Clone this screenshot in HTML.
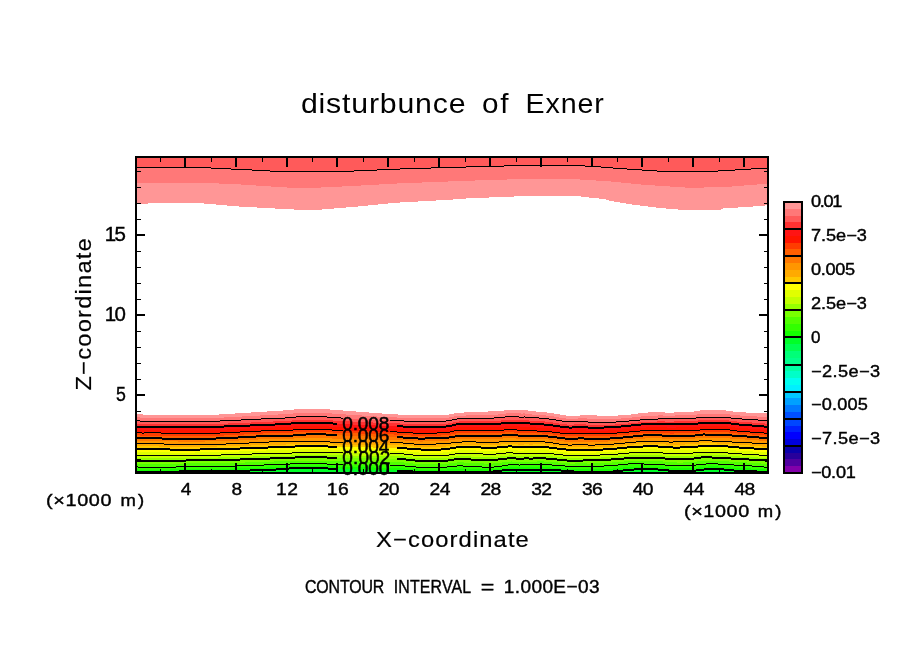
<!DOCTYPE html>
<html><head><meta charset="utf-8"><title>disturbunce of Exner</title>
<style>
html,body{margin:0;padding:0;background:#fff;}
body{width:904px;height:654px;position:relative;overflow:hidden;font-family:"Liberation Sans",sans-serif;}
svg text{font-family:"Liberation Sans",sans-serif;fill:#000;stroke:#000;stroke-width:0.4px;}
svg text.tt{stroke:none;}
svg text.ax{stroke-width:0.2px;}
svg text.cl{stroke:#000;stroke-width:0.5px;}
</style></head><body>
<svg width="904" height="654" viewBox="0 0 904 654" shape-rendering="crispEdges" style="position:absolute;left:0;top:0">
<rect width="904" height="654" fill="#fff"/>
<path d="M137,158h74v9h-74zM211,158h20v10h-20zM231,158h21v11h-21zM252,158h18v12h-18zM270,158h84v13h-84zM354,158h23v12h-23zM377,158h23v11h-23zM400,158h31v10h-31zM431,158h35v9h-35zM466,158h38v8h-38zM504,158h81v7h-81zM585,158h16v8h-16zM601,158h12v9h-12zM613,158h14v10h-14zM627,158h15v11h-15zM642,158h15v12h-15zM657,158h61v13h-61zM718,158h17v12h-17zM735,158h16v11h-16zM751,158h16v10h-16z" fill="#ff5a5a"/>
<path d="M137,167h74v16h-74zM211,168h8v15h-8zM219,168h12v16h-12zM231,169h10v15h-10zM241,169h11v16h-11zM252,170h4v15h-4zM256,170h14v16h-14zM270,171h1v15h-1zM271,171h16v16h-16zM287,171h34v17h-34zM321,171h21v16h-21zM342,171h12v15h-12zM354,170h7v16h-7zM361,170h16v15h-16zM377,169h2v16h-2zM379,169h18v15h-18zM397,169h3v14h-3zM400,168h22v15h-22zM422,168h9v14h-9zM431,167h17v15h-17zM448,167h18v14h-18zM466,166h9v15h-9zM475,166h29v14h-29zM504,165h3v15h-3zM507,165h73v14h-73zM580,165h5v15h-5zM585,166h11v14h-11zM596,166h5v15h-5zM601,167h10v14h-10zM611,167h2v15h-2zM613,168h8v14h-8zM621,168h6v15h-6zM627,169h4v14h-4zM631,169h10v15h-10zM641,169h1v16h-1zM642,170h13v15h-13zM655,170h2v16h-2zM657,171h13v15h-13zM670,171h15v16h-15zM685,171h19v17h-19zM704,171h14v16h-14zM718,170h14v17h-14zM732,170h3v16h-3zM735,169h9v17h-9zM744,169h7v16h-7zM751,168h6v17h-6zM757,168h10v16h-10z" fill="#ff7878"/>
<path d="M137,183h11v21h-11zM148,183h56v20h-56zM204,183h12v21h-12zM216,183h3v22h-3zM219,184h8v21h-8zM227,184h12v22h-12zM239,184h2v23h-2zM241,185h15v22h-15zM256,186h1v21h-1zM257,186h14v22h-14zM271,187h4v21h-4zM275,187h12v22h-12zM287,188h7v21h-7zM294,188h27v22h-27zM321,187h1v23h-1zM322,187h12v22h-12zM334,187h8v21h-8zM342,186h4v22h-4zM346,186h12v21h-12zM358,186h3v20h-3zM361,185h7v21h-7zM368,185h10v20h-10zM378,185h1v19h-1zM379,184h9v20h-9zM388,184h9v19h-9zM397,183h3v20h-3zM400,183h18v19h-18zM418,183h4v18h-4zM422,182h14v19h-14zM436,182h12v18h-12zM448,181h5v19h-5zM453,181h13v18h-13zM466,181h9v17h-9zM475,180h14v18h-14zM489,180h18v17h-18zM507,179h7v18h-7zM514,179h66v17h-66zM580,180h1v16h-1zM581,180h8v17h-8zM589,180h7v18h-7zM596,181h3v17h-3zM599,181h7v18h-7zM606,181h3v19h-3zM609,181h2v20h-2zM611,182h3v19h-3zM614,182h6v20h-6zM620,182h1v21h-1zM621,183h5v20h-5zM626,183h5v21h-5zM631,184h1v20h-1zM632,184h8v21h-8zM640,184h1v22h-1zM641,185h7v21h-7zM648,185h7v22h-7zM655,186h1v21h-1zM656,186h10v22h-10zM666,186h4v23h-4zM670,187h8v22h-8zM678,187h7v23h-7zM685,188h19v22h-19zM704,187h17v23h-17zM721,187h2v22h-2zM723,187h9v21h-9zM732,186h6v22h-6zM738,186h6v21h-6zM744,185h9v22h-9zM753,185h4v21h-4zM757,184h8v22h-8zM765,184h2v21h-2z" fill="#ff9696"/>
<path d="M137,167h74v1h-74zM211,168h20v1h-20zM231,169h21v1h-21zM252,170h18v1h-18zM270,171h84v1h-84zM354,170h23v1h-23zM377,169h23v1h-23zM400,168h31v1h-31zM431,167h35v1h-35zM466,166h38v1h-38zM504,165h81v1h-81zM585,166h16v1h-16zM601,167h12v1h-12zM613,168h14v1h-14zM627,169h15v1h-15zM642,170h15v1h-15zM657,171h61v1h-61zM718,170h17v1h-17zM735,169h16v1h-16zM751,168h16v1h-16z" fill="#000"/>
<path d="M137,414h3v3h-3zM140,414h3v4h-3zM143,415h76v3h-76zM219,414h5v4h-5zM224,414h11v3h-11zM235,413h7v4h-7zM242,413h9v3h-9zM251,412h9v4h-9zM260,412h7v3h-7zM267,411h11v4h-11zM278,411h5v3h-5zM283,410h10v4h-10zM293,410h1v3h-1zM294,409h36v4h-36zM330,410h2v3h-2zM332,410h11v4h-11zM343,411h3v3h-3zM346,411h10v4h-10zM356,412h6v3h-6zM362,412h7v4h-7zM369,413h8v3h-8zM377,413h5v4h-5zM382,414h15v3h-15zM397,414h1v4h-1zM398,415h51v3h-51zM449,414h5v3h-5zM454,413h10v3h-10zM464,412h2v4h-2zM466,412h22v3h-22zM488,411h10v4h-10zM498,411h6v3h-6zM504,410h2v4h-2zM506,410h15v3h-15zM521,410h2v4h-2zM523,410h2v3h-2zM525,410h3v4h-3zM528,411h4v3h-4zM532,411h4v4h-4zM536,412h10v3h-10zM546,412h1v4h-1zM547,413h7v3h-7zM554,414h5v3h-5zM559,414h1v4h-1zM560,415h6v3h-6zM566,416h12v3h-12zM578,416h2v2h-2zM580,415h7v3h-7zM587,415h10v4h-10zM597,416h21v3h-21zM618,415h3v4h-3zM621,415h10v3h-10zM631,414h1v4h-1zM632,414h6v3h-6zM638,413h3v4h-3zM641,413h7v3h-7zM648,412h10v4h-10zM658,412h5v3h-5zM663,412h2v4h-2zM665,413h9v3h-9zM674,412h1v4h-1zM675,412h19v3h-19zM694,411h3v4h-3zM697,411h3v3h-3zM700,410h26v4h-26zM726,411h4v3h-4zM730,411h3v4h-3zM733,412h7v3h-7zM740,412h6v4h-6zM746,413h11v3h-11zM757,413h10v4h-10z" fill="#ff9696"/>
<path d="M137,417h3v4h-3zM140,418h21v3h-21zM161,418h19v4h-19zM180,418h44v3h-44zM224,417h7v4h-7zM231,417h11v3h-11zM242,416h9v4h-9zM251,416h9v3h-9zM260,415h12v4h-12zM272,415h6v3h-6zM278,414h14v4h-14zM292,414h1v3h-1zM293,413h39v4h-39zM332,414h1v3h-1zM333,414h13v4h-13zM346,415h5v3h-5zM351,415h11v4h-11zM362,416h9v3h-9zM371,416h6v4h-6zM377,417h18v3h-18zM395,417h2v4h-2zM397,418h52v3h-52zM449,417h5v3h-5zM454,416h12v3h-12zM466,415h2v4h-2zM468,415h30v3h-30zM498,414h3v4h-3zM501,414h5v3h-5zM506,413h3v4h-3zM509,413h3v3h-3zM512,413h9v4h-9zM521,414h2v3h-2zM523,413h2v4h-2zM525,414h4v3h-4zM529,414h3v4h-3zM532,415h13v3h-13zM545,415h1v4h-1zM546,416h7v3h-7zM553,416h1v4h-1zM554,417h5v3h-5zM559,418h7v3h-7zM566,419h10v3h-10zM576,419h2v2h-2zM578,418h6v3h-6zM584,418h3v4h-3zM587,419h34v3h-34zM621,418h2v4h-2zM623,418h9v3h-9zM632,417h3v4h-3zM635,417h6v3h-6zM641,416h13v4h-13zM654,416h4v3h-4zM658,415h5v4h-5zM663,416h12v3h-12zM675,415h2v4h-2zM677,415h20v3h-20zM697,414h2v4h-2zM699,414h28v3h-28zM727,414h3v4h-3zM730,415h5v3h-5zM735,415h5v4h-5zM740,416h11v3h-11zM751,416h6v4h-6zM757,417h10v3h-10z" fill="#ff7878"/>
<path d="M137,421h24v3h-24zM161,422h19v2h-19zM180,421h48v3h-48zM228,421h3v2h-3zM231,420h20v3h-20zM251,419h21v3h-21zM272,418h1v4h-1zM273,418h19v3h-19zM292,417h41v3h-41zM333,418h18v3h-18zM351,419h1v2h-1zM352,419h19v3h-19zM371,420h2v2h-2zM373,420h22v3h-22zM395,421h5v2h-5zM400,421h48v3h-48zM448,421h1v2h-1zM449,420h4v3h-4zM453,420h1v2h-1zM454,419h5v3h-5zM459,419h9v2h-9zM468,418h33v3h-33zM501,417h8v3h-8zM509,416h3v4h-3zM512,417h17v3h-17zM529,418h16v3h-16zM545,419h8v3h-8zM553,420h6v3h-6zM559,421h7v3h-7zM566,422h1v2h-1zM567,422h7v3h-7zM574,422h2v2h-2zM576,421h8v3h-8zM584,422h2v2h-2zM586,422h29v3h-29zM615,422h8v2h-8zM623,421h5v3h-5zM628,421h7v2h-7zM635,420h3v3h-3zM638,420h16v2h-16zM654,419h3v3h-3zM657,419h8v2h-8zM665,419h9v3h-9zM674,419h3v2h-3zM677,418h21v3h-21zM698,418h1v2h-1zM699,417h28v3h-28zM727,418h2v2h-2zM729,418h6v3h-6zM735,419h2v2h-2zM737,419h14v3h-14zM751,420h1v2h-1zM752,420h13v3h-13zM765,420h2v4h-2z" fill="#ff5a5a"/>
<path d="M137,424h87v3h-87zM224,424h4v2h-4zM228,423h22v3h-22zM250,423h1v2h-1zM251,422h22v3h-22zM273,421h2v4h-2zM275,421h16v3h-16zM291,421h1v2h-1zM292,420h41v3h-41zM333,421h19v3h-19zM352,422h1v2h-1zM353,422h20v3h-20zM373,423h3v2h-3zM376,423h24v3h-24zM400,424h3v2h-3zM403,424h43v3h-43zM446,424h2v2h-2zM448,423h4v3h-4zM452,423h1v2h-1zM453,422h3v3h-3zM456,422h3v2h-3zM459,421h42v3h-42zM501,420h28v3h-28zM529,421h1v2h-1zM530,421h14v3h-14zM544,421h1v4h-1zM545,422h8v3h-8zM553,423h6v3h-6zM559,424h1v2h-1zM560,424h7v3h-7zM567,425h2v2h-2zM569,425h3v3h-3zM572,425h2v2h-2zM574,424h12v3h-12zM586,425h2v2h-2zM588,425h16v3h-16zM604,425h11v2h-11zM615,424h6v3h-6zM621,424h7v2h-7zM628,423h3v3h-3zM631,423h7v2h-7zM638,422h3v3h-3zM641,422h16v2h-16zM657,421h8v3h-8zM665,422h9v2h-9zM674,421h24v3h-24zM698,420h31v3h-31zM729,421h2v2h-2zM731,421h6v3h-6zM737,422h2v2h-2zM739,422h13v3h-13zM752,423h12v3h-12zM764,423h1v4h-1zM765,424h2v3h-2z" fill="#ff3232"/>
<path d="M137,427h87v3h-87zM224,426h3v4h-3zM227,426h23v3h-23zM250,425h25v3h-25zM275,424h16v3h-16zM291,423h3v4h-3zM294,423h35v3h-35zM329,423h4v4h-4zM333,424h15v3h-15zM348,424h5v4h-5zM353,425h22v3h-22zM375,425h1v4h-1zM376,426h27v3h-27zM403,427h1v2h-1zM404,427h42v3h-42zM446,426h1v4h-1zM447,426h5v3h-5zM452,425h4v3h-4zM456,424h1v4h-1zM457,424h44v3h-44zM501,423h4v4h-4zM505,423h15v3h-15zM520,423h10v4h-10zM530,424h6v3h-6zM536,424h8v4h-8zM544,425h7v3h-7zM551,425h2v4h-2zM553,426h5v3h-5zM558,426h2v4h-2zM560,427h7v3h-7zM567,427h2v4h-2zM569,428h3v3h-3zM572,427h3v4h-3zM575,427h11v3h-11zM586,427h2v4h-2zM588,428h16v3h-16zM604,427h4v4h-4zM608,427h13v3h-13zM621,426h1v4h-1zM622,426h9v3h-9zM631,425h2v4h-2zM633,425h8v3h-8zM641,424h5v4h-5zM646,424h21v3h-21zM667,424h9v4h-9zM676,424h22v3h-22zM698,423h2v4h-2zM700,423h28v3h-28zM728,423h3v4h-3zM731,424h4v3h-4zM735,424h4v4h-4zM739,425h9v3h-9zM748,425h4v4h-4zM752,426h8v3h-8zM760,426h4v4h-4zM764,427h3v3h-3z" fill="#ff1414"/>
<path d="M137,430h90v3h-90zM227,429h2v4h-2zM229,429h21v3h-21zM250,428h24v3h-24zM274,428h1v2h-1zM275,427h19v3h-19zM294,426h3v4h-3zM297,426h29v3h-29zM326,426h3v4h-3zM329,427h11v3h-11zM340,427h8v4h-8zM348,428h26v3h-26zM374,428h1v4h-1zM375,429h29v3h-29zM404,430h43v3h-43zM447,429h5v3h-5zM452,428h5v3h-5zM457,427h9v3h-9zM466,427h20v4h-20zM486,427h19v3h-19zM505,426h15v4h-15zM520,427h8v3h-8zM528,427h8v4h-8zM536,428h11v3h-11zM547,428h4v4h-4zM551,429h5v3h-5zM556,429h2v4h-2zM558,430h7v3h-7zM565,430h2v4h-2zM567,431h8v3h-8zM575,430h2v4h-2zM577,430h8v3h-8zM585,430h1v4h-1zM586,431h22v3h-22zM608,430h3v4h-3zM611,430h11v3h-11zM622,429h2v4h-2zM624,429h9v3h-9zM633,428h2v4h-2zM635,428h11v3h-11zM646,427h8v4h-8zM654,427h12v3h-12zM666,427h1v4h-1zM667,428h9v3h-9zM676,427h20v4h-20zM696,427h4v3h-4zM700,426h28v4h-28zM728,427h5v3h-5zM733,427h2v4h-2zM735,428h9v3h-9zM744,428h4v4h-4zM748,429h9v3h-9zM757,429h3v4h-3zM760,430h7v3h-7z" fill="#ff1400"/>
<path d="M137,433h3v2h-3zM140,433h84v3h-84zM224,433h5v2h-5zM229,432h15v3h-15zM244,432h6v2h-6zM250,431h13v3h-13zM263,431h11v2h-11zM274,430h20v3h-20zM294,430h3v2h-3zM297,429h29v3h-29zM326,430h7v2h-7zM333,430h7v3h-7zM340,431h19v2h-19zM359,431h15v3h-15zM374,432h20v2h-20zM394,432h10v3h-10zM404,433h7v2h-7zM411,433h30v3h-30zM441,433h6v2h-6zM447,432h4v3h-4zM451,432h1v2h-1zM452,431h4v3h-4zM456,431h1v2h-1zM457,430h9v3h-9zM466,431h20v2h-20zM486,430h19v3h-19zM505,430h9v2h-9zM514,430h14v3h-14zM528,431h14v2h-14zM542,431h5v3h-5zM547,432h6v2h-6zM553,432h3v3h-3zM556,433h4v2h-4zM560,433h5v3h-5zM565,434h12v2h-12zM577,433h8v3h-8zM585,434h26v2h-26zM611,433h6v3h-6zM617,433h7v2h-7zM624,432h5v3h-5zM629,432h6v2h-6zM635,431h4v3h-4zM639,431h15v2h-15zM654,430h12v3h-12zM666,431h4v2h-4zM670,431h4v3h-4zM674,431h22v2h-22zM696,430h3v3h-3zM699,430h30v2h-30zM729,430h4v3h-4zM733,431h5v2h-5zM738,431h6v3h-6zM744,432h8v2h-8zM752,432h5v3h-5zM757,433h8v2h-8zM765,433h2v3h-2z" fill="#ff3c00"/>
<path d="M137,435h3v3h-3zM140,436h22v2h-22zM162,436h54v3h-54zM216,436h8v2h-8zM224,435h14v3h-14zM238,435h6v2h-6zM244,434h12v3h-12zM256,434h7v2h-7zM263,433h30v3h-30zM293,433h1v2h-1zM294,432h12v3h-12zM306,432h20v2h-20zM326,432h7v3h-7zM333,433h12v2h-12zM345,433h14v3h-14zM359,434h14v2h-14zM373,434h21v3h-21zM394,435h9v2h-9zM403,435h8v3h-8zM411,436h7v2h-7zM418,436h7v3h-7zM425,436h16v2h-16zM441,435h8v3h-8zM449,435h2v2h-2zM451,434h4v3h-4zM455,434h1v2h-1zM456,433h46v3h-46zM502,433h3v2h-3zM505,432h9v3h-9zM514,433h4v2h-4zM518,433h24v3h-24zM542,434h6v2h-6zM548,434h5v3h-5zM553,435h4v2h-4zM557,435h3v3h-3zM560,436h5v2h-5zM565,436h13v3h-13zM578,436h6v2h-6zM584,436h26v3h-26zM610,436h7v2h-7zM617,435h6v3h-6zM623,435h6v2h-6zM629,434h4v3h-4zM633,434h6v2h-6zM639,433h4v3h-4zM643,433h19v2h-19zM662,433h8v3h-8zM670,434h4v2h-4zM674,433h21v3h-21zM695,433h4v2h-4zM699,432h4v3h-4zM703,432h2v2h-2zM705,432h24v3h-24zM729,433h3v2h-3zM732,433h6v3h-6zM738,434h9v2h-9zM747,434h5v3h-5zM752,435h7v2h-7zM759,435h6v3h-6zM765,436h2v2h-2z" fill="#ff5f00"/>
<path d="M137,438h25v3h-25zM162,439h16v2h-16zM178,439h27v3h-27zM205,439h11v2h-11zM216,438h22v3h-22zM238,437h1v4h-1zM239,437h17v3h-17zM256,436h2v4h-2zM258,436h35v3h-35zM293,435h1v4h-1zM294,435h12v3h-12zM306,434h20v4h-20zM326,435h6v3h-6zM332,435h13v4h-13zM345,436h24v3h-24zM369,436h4v4h-4zM373,437h30v3h-30zM403,438h2v2h-2zM405,438h13v3h-13zM418,439h2v2h-2zM420,439h3v3h-3zM423,439h2v2h-2zM425,438h24v3h-24zM449,437h6v3h-6zM455,436h47v3h-47zM502,435h1v4h-1zM503,435h13v3h-13zM516,435h2v4h-2zM518,436h30v3h-30zM548,437h1v2h-1zM549,437h7v3h-7zM556,437h1v4h-1zM557,438h7v3h-7zM564,438h1v4h-1zM565,439h13v3h-13zM578,438h6v4h-6zM584,439h24v3h-24zM608,439h2v2h-2zM610,438h11v3h-11zM621,438h2v2h-2zM623,437h8v3h-8zM631,437h2v2h-2zM633,436h10v3h-10zM643,435h2v4h-2zM645,435h17v3h-17zM662,436h33v3h-33zM695,435h8v3h-8zM703,434h2v4h-2zM705,435h25v3h-25zM730,435h2v4h-2zM732,436h13v3h-13zM745,436h2v4h-2zM747,437h12v3h-12zM759,438h8v3h-8z" fill="#ff7800"/>
<path d="M137,441h3v2h-3zM140,441h38v3h-38zM178,442h27v2h-27zM205,441h34v3h-34zM239,440h19v3h-19zM258,439h1v4h-1zM259,439h35v3h-35zM294,438h1v4h-1zM295,438h22v3h-22zM317,438h15v4h-15zM332,439h6v3h-6zM338,439h31v4h-31zM369,440h36v3h-36zM405,441h3v2h-3zM408,441h12v3h-12zM420,442h3v2h-3zM423,441h25v3h-25zM448,441h1v2h-1zM449,440h6v3h-6zM455,439h48v3h-48zM503,438h2v4h-2zM505,438h10v3h-10zM515,438h1v4h-1zM516,439h33v3h-33zM549,440h7v3h-7zM556,441h7v3h-7zM563,441h1v4h-1zM564,442h43v3h-43zM607,442h1v2h-1zM608,441h11v3h-11zM619,441h2v2h-2zM621,440h8v3h-8zM629,440h2v2h-2zM631,439h14v3h-14zM645,438h6v4h-6zM651,438h10v3h-10zM661,438h1v4h-1zM662,439h33v3h-33zM695,438h32v3h-32zM727,438h3v4h-3zM730,439h11v3h-11zM741,439h4v4h-4zM745,440h13v3h-13zM758,440h1v4h-1zM759,441h8v3h-8z" fill="#ff9600"/>
<path d="M137,443h3v3h-3zM140,444h19v2h-19zM159,444h58v3h-58zM217,444h22v2h-22zM239,443h12v3h-12zM251,443h8v2h-8zM259,442h27v3h-27zM286,442h9v2h-9zM295,441h22v3h-22zM317,442h16v2h-16zM333,442h5v3h-5zM338,443h65v2h-65zM403,443h5v3h-5zM408,444h6v2h-6zM414,444h32v3h-32zM446,444h2v2h-2zM448,443h4v3h-4zM452,443h3v2h-3zM455,442h46v3h-46zM501,442h4v2h-4zM505,441h10v3h-10zM515,442h3v2h-3zM518,442h6v3h-6zM524,442h5v2h-5zM529,442h4v3h-4zM533,442h12v2h-12zM545,442h4v3h-4zM549,443h4v2h-4zM553,443h3v3h-3zM556,444h4v2h-4zM560,444h3v3h-3zM563,445h25v2h-25zM588,445h6v3h-6zM594,445h13v2h-13zM607,444h6v3h-6zM613,444h6v2h-6zM619,443h4v3h-4zM623,443h6v2h-6zM629,442h5v3h-5zM634,442h17v2h-17zM651,441h10v3h-10zM661,442h5v2h-5zM666,442h19v3h-19zM685,442h10v2h-10zM695,441h5v3h-5zM700,441h17v2h-17zM717,441h10v3h-10zM727,442h5v2h-5zM732,442h9v3h-9zM741,443h9v2h-9zM750,443h8v3h-8zM758,444h4v2h-4zM762,444h5v3h-5z" fill="#ffaa00"/>
<path d="M137,446h22v3h-22zM159,447h11v2h-11zM170,447h30v3h-30zM200,447h17v2h-17zM217,446h23v3h-23zM240,446h11v2h-11zM251,445h17v3h-17zM268,445h18v2h-18zM286,444h9v3h-9zM295,444h33v2h-33zM328,444h5v3h-5zM333,445h40v2h-40zM373,445h30v3h-30zM403,446h4v2h-4zM407,446h7v3h-7zM414,447h7v2h-7zM421,447h20v3h-20zM441,447h5v2h-5zM446,446h4v3h-4zM450,446h2v2h-2zM452,445h4v3h-4zM456,445h25v2h-25zM481,445h16v3h-16zM497,445h4v2h-4zM501,444h7v3h-7zM508,444h4v2h-4zM512,444h6v3h-6zM518,445h6v2h-6zM524,444h5v3h-5zM529,445h4v2h-4zM533,444h12v3h-12zM545,445h4v2h-4zM549,445h4v3h-4zM553,446h4v2h-4zM557,446h3v3h-3zM560,447h6v2h-6zM566,447h22v3h-22zM588,448h6v2h-6zM594,447h9v3h-9zM603,447h10v2h-10zM613,446h4v3h-4zM617,446h6v2h-6zM623,445h4v3h-4zM627,445h7v2h-7zM634,444h9v3h-9zM643,444h15v2h-15zM658,444h8v3h-8zM666,445h7v2h-7zM673,445h7v3h-7zM680,445h5v2h-5zM685,444h13v3h-13zM698,444h2v2h-2zM700,443h17v3h-17zM717,444h11v2h-11zM728,444h4v3h-4zM732,445h7v2h-7zM739,445h11v3h-11zM750,446h4v2h-4zM754,446h8v3h-8zM762,447h5v2h-5z" fill="#ffc800"/>
<path d="M137,449h33v3h-33zM170,450h25v3h-25zM195,450h5v2h-5zM200,449h39v3h-39zM239,449h1v2h-1zM240,448h26v3h-26zM266,448h2v2h-2zM268,447h27v3h-27zM295,446h1v4h-1zM296,446h32v3h-32zM328,447h1v2h-1zM329,447h44v3h-44zM373,448h8v2h-8zM381,448h26v3h-26zM407,449h1v2h-1zM408,449h11v3h-11zM419,449h2v4h-2zM421,450h20v3h-20zM441,449h2v4h-2zM443,449h7v3h-7zM450,448h1v4h-1zM451,448h5v3h-5zM456,447h2v4h-2zM458,447h18v3h-18zM476,447h5v4h-5zM481,448h16v3h-16zM497,447h3v4h-3zM500,447h8v3h-8zM508,446h4v4h-4zM512,447h6v3h-6zM518,447h6v4h-6zM524,447h25v3h-25zM549,448h8v3h-8zM557,449h1v2h-1zM558,449h8v3h-8zM566,450h1v2h-1zM567,450h29v3h-29zM596,450h7v2h-7zM603,449h12v3h-12zM615,449h2v2h-2zM617,448h8v3h-8zM625,448h2v2h-2zM627,447h14v3h-14zM641,447h2v2h-2zM643,446h14v3h-14zM657,446h1v4h-1zM658,447h15v3h-15zM673,448h7v2h-7zM680,447h18v3h-18zM698,446h28v3h-28zM726,446h2v4h-2zM728,447h8v3h-8zM736,447h3v4h-3zM739,448h14v3h-14zM753,448h1v4h-1zM754,449h13v3h-13z" fill="#ffff00"/>
<path d="M137,452h3v3h-3zM140,452h29v4h-29zM169,452h1v3h-1zM170,453h25v2h-25zM195,452h44v3h-44zM239,451h26v3h-26zM265,451h1v2h-1zM266,450h30v3h-30zM296,449h5v4h-5zM301,449h28v3h-28zM329,450h52v3h-52zM381,451h19v2h-19zM400,451h8v3h-8zM408,452h1v2h-1zM409,452h9v3h-9zM418,452h1v4h-1zM419,453h24v3h-24zM443,452h2v4h-2zM445,452h6v3h-6zM451,451h1v4h-1zM452,451h6v3h-6zM458,450h3v4h-3zM461,450h12v3h-12zM473,450h3v4h-3zM476,451h24v3h-24zM500,450h2v4h-2zM502,450h15v3h-15zM517,450h1v4h-1zM518,451h6v3h-6zM524,450h9v4h-9zM533,450h15v3h-15zM548,450h1v4h-1zM549,451h9v3h-9zM558,452h1v2h-1zM559,452h8v3h-8zM567,453h1v2h-1zM568,453h12v3h-12zM580,453h16v2h-16zM596,452h17v3h-17zM613,452h2v2h-2zM615,451h9v3h-9zM624,451h1v2h-1zM625,450h14v3h-14zM639,450h2v2h-2zM641,449h16v3h-16zM657,450h41v3h-41zM698,449h1v4h-1zM699,449h21v3h-21zM720,449h6v4h-6zM726,450h7v3h-7zM733,450h3v4h-3zM736,451h16v3h-16zM752,451h1v4h-1zM753,452h14v3h-14z" fill="#e1ff00"/>
<path d="M137,455h3v3h-3zM140,456h29v2h-29zM169,455h49v3h-49zM218,455h21v2h-21zM239,454h14v3h-14zM253,454h12v2h-12zM265,453h26v3h-26zM291,453h10v2h-10zM301,452h28v3h-28zM329,453h20v2h-20zM349,453h51v3h-51zM400,454h4v2h-4zM404,454h5v3h-5zM409,455h3v2h-3zM412,455h6v3h-6zM418,456h27v2h-27zM445,455h5v3h-5zM450,455h2v2h-2zM452,454h4v3h-4zM456,454h5v2h-5zM461,453h10v3h-10zM471,453h2v4h-2zM473,454h27v3h-27zM500,454h2v2h-2zM502,453h7v3h-7zM509,453h3v2h-3zM512,453h5v3h-5zM517,454h16v2h-16zM533,453h15v3h-15zM548,454h5v2h-5zM553,454h6v3h-6zM559,455h4v2h-4zM563,455h5v3h-5zM568,456h12v2h-12zM580,455h21v3h-21zM601,455h12v2h-12zM613,454h5v3h-5zM618,454h6v2h-6zM624,453h5v3h-5zM629,453h10v2h-10zM639,452h18v3h-18zM657,453h5v2h-5zM662,453h34v3h-34zM696,453h3v2h-3zM699,452h21v3h-21zM720,453h7v2h-7zM727,453h6v3h-6zM733,454h7v2h-7zM740,454h12v3h-12zM752,455h6v2h-6zM758,455h9v3h-9z" fill="#c3ff00"/>
<path d="M137,458h49v3h-49zM186,458h32v2h-32zM218,457h22v3h-22zM240,457h13v2h-13zM253,456h17v3h-17zM270,456h21v2h-21zM291,455h4v3h-4zM295,455h32v2h-32zM327,455h22v3h-22zM349,456h31v2h-31zM380,456h24v3h-24zM404,457h2v2h-2zM406,457h6v3h-6zM412,458h3v2h-3zM415,458h33v3h-33zM448,458h2v2h-2zM450,457h4v3h-4zM454,457h2v2h-2zM456,456h15v3h-15zM471,457h27v3h-27zM498,457h2v2h-2zM500,456h7v3h-7zM507,456h2v2h-2zM509,455h3v3h-3zM512,456h4v2h-4zM516,456h8v3h-8zM524,456h5v2h-5zM529,456h4v3h-4zM533,456h13v2h-13zM546,456h7v3h-7zM553,457h4v2h-4zM557,457h6v3h-6zM563,458h4v2h-4zM567,458h16v3h-16zM583,458h18v2h-18zM601,457h10v3h-10zM611,457h7v2h-7zM618,456h6v3h-6zM624,456h5v2h-5zM629,455h33v3h-33zM662,456h3v2h-3zM665,456h29v3h-29zM694,456h2v2h-2zM696,455h5v3h-5zM701,455h11v2h-11zM712,455h15v3h-15zM727,456h4v2h-4zM731,456h9v3h-9zM740,457h9v2h-9zM749,457h9v3h-9zM758,458h7v2h-7zM765,458h2v3h-2z" fill="#96ff00"/>
<path d="M137,461h49v3h-49zM186,460h1v4h-1zM187,460h53v3h-53zM240,459h5v4h-5zM245,459h25v3h-25zM270,458h4v4h-4zM274,458h21v3h-21zM295,457h32v4h-32zM327,458h34v3h-34zM361,458h19v4h-19zM380,459h24v3h-24zM404,459h2v4h-2zM406,460h7v3h-7zM413,460h2v4h-2zM415,461h33v3h-33zM448,460h1v4h-1zM449,460h5v3h-5zM454,459h3v4h-3zM457,459h7v3h-7zM464,459h7v4h-7zM471,460h13v3h-13zM484,460h9v4h-9zM493,460h5v3h-5zM498,459h4v4h-4zM502,459h5v3h-5zM507,458h4v4h-4zM511,458h1v3h-1zM512,458h4v4h-4zM516,459h8v3h-8zM524,458h5v4h-5zM529,459h4v3h-4zM533,458h4v4h-4zM537,458h7v3h-7zM544,458h2v4h-2zM546,459h11v3h-11zM557,460h1v2h-1zM558,460h9v3h-9zM567,461h3v2h-3zM570,461h5v3h-5zM575,461h8v2h-8zM583,460h4v3h-4zM587,460h6v4h-6zM593,460h18v3h-18zM611,459h1v4h-1zM612,459h12v3h-12zM624,458h39v3h-39zM663,458h2v4h-2zM665,459h12v3h-12zM677,459h6v4h-6zM683,459h11v3h-11zM694,458h3v4h-3zM697,458h4v3h-4zM701,457h11v4h-11zM712,458h17v3h-17zM729,458h2v4h-2zM731,459h16v3h-16zM747,459h2v4h-2zM749,460h12v3h-12zM761,460h4v4h-4zM765,461h2v3h-2z" fill="#78ff00"/>
<path d="M137,464h5v3h-5zM142,464h22v4h-22zM164,464h23v3h-23zM187,463h58v3h-58zM245,462h5v4h-5zM250,462h24v3h-24zM274,461h3v4h-3zM277,461h70v3h-70zM347,461h14v4h-14zM361,462h40v3h-40zM401,462h3v4h-3zM404,463h6v3h-6zM410,463h3v4h-3zM413,464h36v3h-36zM449,463h3v4h-3zM452,463h5v3h-5zM457,462h7v4h-7zM464,463h7v3h-7zM471,463h13v4h-13zM484,464h9v3h-9zM493,463h6v4h-6zM499,463h3v3h-3zM502,462h3v4h-3zM505,462h6v3h-6zM511,461h1v4h-1zM512,462h25v3h-25zM537,461h7v4h-7zM544,462h14v3h-14zM558,463h1v2h-1zM559,463h11v3h-11zM570,464h5v2h-5zM575,463h12v3h-12zM587,464h6v3h-6zM593,463h2v4h-2zM595,463h17v3h-17zM612,462h1v4h-1zM613,462h10v3h-10zM623,462h1v2h-1zM624,461h36v3h-36zM660,461h3v4h-3zM663,462h8v3h-8zM671,462h6v4h-6zM677,463h6v3h-6zM683,462h4v4h-4zM687,462h10v3h-10zM697,461h3v4h-3zM700,461h28v3h-28zM728,461h1v4h-1zM729,462h15v3h-15zM744,462h3v4h-3zM747,463h11v3h-11zM758,463h3v4h-3zM761,464h6v3h-6z" fill="#50ff00"/>
<path d="M137,467h1v2h-1zM138,467h4v3h-4zM142,468h22v2h-22zM164,467h6v3h-6zM170,467h17v2h-17zM187,466h47v3h-47zM234,466h16v2h-16zM250,465h16v3h-16zM266,465h11v2h-11zM277,464h8v3h-8zM285,464h48v2h-48zM333,464h14v3h-14zM347,465h27v2h-27zM374,465h27v3h-27zM401,466h4v2h-4zM405,466h5v3h-5zM410,467h8v2h-8zM418,467h29v3h-29zM447,467h5v2h-5zM452,466h19v3h-19zM471,467h17v2h-17zM488,467h2v3h-2zM490,467h9v2h-9zM499,466h1v3h-1zM500,466h5v2h-5zM505,465h2v3h-2zM507,465h44v2h-44zM551,465h8v3h-8zM559,466h7v2h-7zM566,466h21v3h-21zM587,467h8v2h-8zM595,466h18v3h-18zM613,465h10v3h-10zM623,464h37v3h-37zM660,465h4v2h-4zM664,465h7v3h-7zM671,466h16v2h-16zM687,465h11v3h-11zM698,465h2v2h-2zM700,464h8v3h-8zM708,464h10v2h-10zM718,464h10v3h-10zM728,465h3v2h-3zM731,465h13v3h-13zM744,466h7v2h-7zM751,466h7v3h-7zM758,467h7v2h-7zM765,467h2v3h-2z" fill="#32ff00"/>
<path d="M137,469h1v3h-1zM138,470h32v2h-32zM170,469h9v3h-9zM179,469h55v2h-55zM234,468h16v3h-16zM250,468h16v2h-16zM266,467h10v3h-10zM276,467h9v2h-9zM285,466h4v3h-4zM289,466h39v2h-39zM328,466h5v3h-5zM333,467h23v2h-23zM356,467h18v3h-18zM374,468h23v2h-23zM397,468h8v3h-8zM405,469h8v2h-8zM413,469h5v3h-5zM418,470h29v2h-29zM447,469h41v3h-41zM488,470h2v2h-2zM490,469h3v3h-3zM493,469h7v2h-7zM500,468h2v3h-2zM502,468h5v2h-5zM507,467h44v3h-44zM551,468h10v2h-10zM561,468h5v3h-5zM566,469h8v2h-8zM574,469h39v3h-39zM613,468h10v3h-10zM623,467h11v3h-11zM634,467h24v2h-24zM658,467h6v3h-6zM664,468h4v2h-4zM668,468h28v3h-28zM696,468h2v2h-2zM698,467h6v3h-6zM704,467h4v2h-4zM708,466h10v3h-10zM718,467h6v2h-6zM724,467h7v3h-7zM731,468h3v2h-3zM734,468h17v3h-17zM751,469h6v2h-6zM757,469h8v3h-8zM765,470h2v2h-2z" fill="#14ff00"/>
<path d="M179,471h71v1h-71zM250,470h26v2h-26zM276,469h13v3h-13zM289,468h39v4h-39zM328,469h28v3h-28zM356,470h41v2h-41zM397,471h16v1h-16zM493,471h9v1h-9zM502,470h59v2h-59zM561,471h13v1h-13zM613,471h10v1h-10zM623,470h11v2h-11zM634,469h24v3h-24zM658,470h10v2h-10zM668,471h28v1h-28zM696,470h8v2h-8zM704,469h20v3h-20zM724,470h10v2h-10zM734,471h23v1h-23z" fill="#00ff28"/>
<path d="M137,420h3v1h-3zM140,421h80v1h-80zM220,420h21v1h-21zM241,419h20v1h-20zM261,418h24v1h-24zM285,417h11v1h-11zM296,416h31v1h-31zM327,417h14v1h-14zM341,418h2v1h-2zM390,420h14v1h-14zM404,421h42v1h-42zM446,420h6v1h-6zM452,419h5v1h-5zM457,418h37v1h-37zM494,417h11v1h-11zM505,416h14v1h-14zM519,417h5v1h-5zM524,416h1v1h-1zM525,417h14v1h-14zM539,418h10v1h-10zM549,419h7v1h-7zM556,420h6v1h-6zM562,421h26v1h-26zM588,422h28v1h-28zM616,421h13v1h-13zM629,420h11v1h-11zM640,419h18v1h-18zM658,418h38v1h-38zM696,417h35v1h-35zM731,418h11v1h-11zM742,419h16v1h-16zM758,420h9v1h-9z" fill="#000"/>
<path d="M137,426h87v2h-87zM224,425h26v2h-26zM250,424h25v2h-25zM275,423h16v2h-16zM291,422h42v2h-42zM333,423h4v2h-4zM397,425h6v2h-6zM403,426h43v2h-43zM446,425h6v2h-6zM452,424h4v2h-4zM456,423h45v2h-45zM501,422h29v2h-29zM530,423h14v2h-14zM544,424h9v2h-9zM553,425h7v2h-7zM560,426h9v2h-9zM569,427h3v2h-3zM572,426h16v2h-16zM588,427h16v2h-16zM604,426h17v2h-17zM621,425h10v2h-10zM631,424h10v2h-10zM641,423h57v2h-57zM698,422h33v2h-33zM731,423h8v2h-8zM739,424h13v2h-13zM752,425h12v2h-12zM764,426h3v2h-3z" fill="#000"/>
<path d="M137,432h5v1h-5zM142,433h2v1h-2zM144,432h17v1h-17zM161,433h59v1h-59zM220,432h20v1h-20zM240,431h21v1h-21zM261,430h32v1h-32zM293,429h39v1h-39zM332,430h11v1h-11zM390,431h7v1h-7zM397,432h16v1h-16zM413,433h24v1h-24zM437,432h13v1h-13zM450,431h4v1h-4zM454,430h50v1h-50zM504,429h13v1h-13zM517,430h20v1h-20zM537,431h15v1h-15zM552,432h8v1h-8zM560,433h57v1h-57zM617,432h12v1h-12zM629,431h11v1h-11zM640,430h60v1h-60zM700,429h30v1h-30zM730,430h7v1h-7zM737,431h13v1h-13zM750,432h14v1h-14zM764,433h3v1h-3z" fill="#000"/>
<path d="M137,437h25v2h-25zM162,438h54v2h-54zM216,437h22v2h-22zM238,436h18v2h-18zM256,435h37v2h-37zM293,434h13v2h-13zM306,433h20v2h-20zM326,434h11v2h-11zM397,436h6v2h-6zM403,437h15v2h-15zM418,438h7v2h-7zM425,437h24v2h-24zM449,436h6v2h-6zM455,435h47v2h-47zM502,434h16v2h-16zM518,435h30v2h-30zM548,436h9v2h-9zM557,437h8v2h-8zM565,438h13v2h-13zM578,437h6v2h-6zM584,438h26v2h-26zM610,437h13v2h-13zM623,436h10v2h-10zM633,435h10v2h-10zM643,434h19v2h-19zM662,435h33v2h-33zM695,434h8v2h-8zM703,433h2v2h-2zM705,434h27v2h-27zM732,435h15v2h-15zM747,436h12v2h-12zM759,437h8v2h-8z" fill="#000"/>
<path d="M137,443h27v1h-27zM164,444h62v1h-62zM226,443h23v1h-23zM249,442h20v1h-20zM269,441h61v1h-61zM330,442h13v1h-13zM390,442h13v1h-13zM403,443h11v1h-11zM414,444h22v1h-22zM436,443h15v1h-15zM451,442h11v1h-11zM462,441h14v1h-14zM476,442h23v1h-23zM499,441h46v1h-46zM545,442h8v1h-8zM553,443h6v1h-6zM559,444h9v1h-9zM568,445h4v1h-4zM572,444h16v1h-16zM588,445h7v1h-7zM595,444h19v1h-19zM614,443h11v1h-11zM625,442h11v1h-11zM636,441h33v1h-33zM669,442h4v1h-4zM673,441h26v1h-26zM699,440h13v1h-13zM712,441h20v1h-20zM732,442h20v1h-20zM752,443h15v1h-15z" fill="#000"/>
<path d="M137,448h33v2h-33zM170,449h30v2h-30zM200,448h40v2h-40zM240,447h28v2h-28zM268,446h27v2h-27zM295,445h33v2h-33zM328,446h9v2h-9zM397,447h10v2h-10zM407,448h14v2h-14zM421,449h20v2h-20zM441,448h9v2h-9zM450,447h6v2h-6zM456,446h25v2h-25zM481,447h16v2h-16zM497,446h11v2h-11zM508,445h4v2h-4zM512,446h37v2h-37zM549,447h8v2h-8zM557,448h9v2h-9zM566,449h37v2h-37zM603,448h14v2h-14zM617,447h10v2h-10zM627,446h16v2h-16zM643,445h15v2h-15zM658,446h15v2h-15zM673,447h7v2h-7zM680,446h18v2h-18zM698,445h30v2h-30zM728,446h11v2h-11zM739,447h15v2h-15zM754,448h13v2h-13z" fill="#000"/>
<path d="M137,455h84v1h-84zM221,454h31v1h-31zM252,453h40v1h-40zM292,452h51v1h-51zM390,453h14v1h-14zM404,454h9v1h-9zM413,455h36v1h-36zM449,454h6v1h-6zM455,453h28v1h-28zM483,454h13v1h-13zM496,453h10v1h-10zM506,452h7v1h-7zM513,453h41v1h-41zM554,454h9v1h-9zM563,455h37v1h-37zM600,454h18v1h-18zM618,453h11v1h-11zM629,452h34v1h-34zM663,453h30v1h-30zM693,452h35v1h-35zM728,453h14v1h-14zM742,454h17v1h-17zM759,455h8v1h-8z" fill="#000"/>
<path d="M137,460h49v2h-49zM186,459h54v2h-54zM240,458h30v2h-30zM270,457h25v2h-25zM295,456h32v2h-32zM327,457h10v2h-10zM397,458h9v2h-9zM406,459h9v2h-9zM415,460h33v2h-33zM448,459h6v2h-6zM454,458h17v2h-17zM471,459h27v2h-27zM498,458h9v2h-9zM507,457h9v2h-9zM516,458h8v2h-8zM524,457h5v2h-5zM529,458h4v2h-4zM533,457h13v2h-13zM546,458h11v2h-11zM557,459h10v2h-10zM567,460h16v2h-16zM583,459h28v2h-28zM611,458h13v2h-13zM624,457h41v2h-41zM665,458h29v2h-29zM694,457h7v2h-7zM701,456h11v2h-11zM712,457h19v2h-19zM731,458h18v2h-18zM749,459h16v2h-16zM765,460h2v2h-2z" fill="#000"/>
<path d="M137,466h1v1h-1zM138,467h38v1h-38zM176,466h61v1h-61zM237,465h27v1h-27zM264,464h26v1h-26zM290,463h37v1h-37zM327,464h16v1h-16zM390,465h15v1h-15zM405,466h11v1h-11zM416,467h31v1h-31zM447,466h10v1h-10zM457,465h6v1h-6zM463,466h19v1h-19zM482,467h12v1h-12zM494,466h8v1h-8zM502,465h6v1h-6zM508,464h11v1h-11zM519,465h1v1h-1zM520,464h32v1h-32zM552,465h13v1h-13zM565,466h39v1h-39zM604,465h14v1h-14zM618,464h10v1h-10zM628,463h16v1h-16zM644,464h21v1h-21zM665,465h31v1h-31zM696,464h10v1h-10zM706,463h12v1h-12zM718,464h16v1h-16zM734,465h18v1h-18zM752,466h12v1h-12zM764,467h3v1h-3z" fill="#000"/>
<path d="M137,471h42v2h-42zM179,470h71v2h-71zM250,469h26v2h-26zM276,468h13v2h-13zM289,467h39v2h-39zM328,468h9v2h-9zM397,470h16v2h-16zM413,471h80v2h-80zM493,470h9v2h-9zM502,469h59v2h-59zM561,470h13v2h-13zM574,471h39v2h-39zM613,470h10v2h-10zM623,469h11v2h-11zM634,468h24v2h-24zM658,469h10v2h-10zM668,470h28v2h-28zM696,469h8v2h-8zM704,468h20v2h-20zM724,469h10v2h-10zM734,470h23v2h-23zM757,471h10v2h-10z" fill="#000"/>
<path d="M135,156h634v318h-634z M137,158v314h630v-314z" fill="#000" fill-rule="evenodd"/>
<path d="M184,158h2v9h-2z M184,463h2v9h-2zM235,158h2v9h-2z M235,463h2v9h-2zM286,158h2v9h-2z M286,463h2v9h-2zM336,158h2v9h-2z M336,463h2v9h-2zM387,158h2v9h-2z M387,463h2v9h-2zM438,158h2v9h-2z M438,463h2v9h-2zM489,158h2v9h-2z M489,463h2v9h-2zM540,158h2v9h-2z M540,463h2v9h-2zM591,158h2v9h-2z M591,463h2v9h-2zM641,158h2v9h-2z M641,463h2v9h-2zM692,158h2v9h-2z M692,463h2v9h-2zM743,158h2v9h-2z M743,463h2v9h-2zM160,158h1v4h-1z M160,469h1v3h-1zM211,158h1v4h-1z M211,469h1v3h-1zM262,158h1v4h-1z M262,469h1v3h-1zM312,158h1v4h-1z M312,469h1v3h-1zM363,158h1v4h-1z M363,469h1v3h-1zM414,158h1v4h-1z M414,469h1v3h-1zM465,158h1v4h-1z M465,469h1v3h-1zM516,158h1v4h-1z M516,469h1v3h-1zM567,158h1v4h-1z M567,469h1v3h-1zM617,158h1v4h-1z M617,469h1v3h-1zM668,158h1v4h-1z M668,469h1v3h-1zM719,158h1v4h-1z M719,469h1v3h-1zM137,459h4v1h-4z M764,459h3v1h-3zM137,443h4v1h-4z M764,443h3v1h-3zM137,427h4v1h-4z M764,427h3v1h-3zM137,411h4v1h-4z M764,411h3v1h-3zM137,394h8v2h-8z M759,394h8v2h-8zM137,379h4v1h-4z M764,379h3v1h-3zM137,363h4v1h-4z M764,363h3v1h-3zM137,347h4v1h-4z M764,347h3v1h-3zM137,331h4v1h-4z M764,331h3v1h-3zM137,314h8v2h-8z M759,314h8v2h-8zM137,299h4v1h-4z M764,299h3v1h-3zM137,283h4v1h-4z M764,283h3v1h-3zM137,267h4v1h-4z M764,267h3v1h-3zM137,251h4v1h-4z M764,251h3v1h-3zM137,234h8v2h-8z M759,234h8v2h-8zM137,219h4v1h-4z M764,219h3v1h-3zM137,203h4v1h-4z M764,203h3v1h-3zM137,187h4v1h-4z M764,187h3v1h-3zM137,171h4v1h-4z M764,171h3v1h-3z" fill="#000"/>
<rect x="785" y="202" width="16" height="7" fill="#ff9696"/>
<rect x="785" y="209" width="16" height="7" fill="#ff7878"/>
<rect x="785" y="216" width="16" height="6" fill="#ff5a5a"/>
<rect x="785" y="222" width="16" height="7" fill="#ff3232"/>
<rect x="785" y="229" width="16" height="7" fill="#ff1414"/>
<rect x="785" y="236" width="16" height="7" fill="#ff1400"/>
<rect x="785" y="243" width="16" height="6" fill="#ff3c00"/>
<rect x="785" y="249" width="16" height="7" fill="#ff5f00"/>
<rect x="785" y="256" width="16" height="7" fill="#ff7800"/>
<rect x="785" y="263" width="16" height="7" fill="#ff9600"/>
<rect x="785" y="270" width="16" height="7" fill="#ffaa00"/>
<rect x="785" y="277" width="16" height="6" fill="#ffc800"/>
<rect x="785" y="283" width="16" height="7" fill="#ffff00"/>
<rect x="785" y="290" width="16" height="7" fill="#e1ff00"/>
<rect x="785" y="297" width="16" height="7" fill="#c3ff00"/>
<rect x="785" y="304" width="16" height="6" fill="#96ff00"/>
<rect x="785" y="310" width="16" height="7" fill="#78ff00"/>
<rect x="785" y="317" width="16" height="7" fill="#50ff00"/>
<rect x="785" y="324" width="16" height="7" fill="#32ff00"/>
<rect x="785" y="331" width="16" height="7" fill="#14ff00"/>
<rect x="785" y="338" width="16" height="6" fill="#00ff28"/>
<rect x="785" y="344" width="16" height="7" fill="#00ff50"/>
<rect x="785" y="351" width="16" height="7" fill="#00ff78"/>
<rect x="785" y="358" width="16" height="7" fill="#00ff8c"/>
<rect x="785" y="365" width="16" height="6" fill="#00ffa5"/>
<rect x="785" y="371" width="16" height="7" fill="#00ffc8"/>
<rect x="785" y="378" width="16" height="7" fill="#00fff0"/>
<rect x="785" y="385" width="16" height="7" fill="#00f0ff"/>
<rect x="785" y="392" width="16" height="6" fill="#00c8ff"/>
<rect x="785" y="398" width="16" height="7" fill="#00a0ff"/>
<rect x="785" y="405" width="16" height="7" fill="#0078ff"/>
<rect x="785" y="412" width="16" height="7" fill="#0050ff"/>
<rect x="785" y="419" width="16" height="7" fill="#0046ff"/>
<rect x="785" y="426" width="16" height="6" fill="#0020ff"/>
<rect x="785" y="432" width="16" height="7" fill="#0000ff"/>
<rect x="785" y="439" width="16" height="7" fill="#0000dc"/>
<rect x="785" y="446" width="16" height="7" fill="#0a00aa"/>
<rect x="785" y="453" width="16" height="6" fill="#28009b"/>
<rect x="785" y="459" width="16" height="7" fill="#5000a0"/>
<rect x="785" y="466" width="16" height="7" fill="#8200aa"/>
<path d="M783,201h2v273h-2z M801,201h2v273h-2zM783,201h20v2h-20zM783,228h20v2h-20zM783,255h20v2h-20zM783,282h20v2h-20zM783,309h20v2h-20zM783,336h20v2h-20zM783,364h20v2h-20zM783,391h20v2h-20zM783,418h20v2h-20zM783,445h20v2h-20zM783,472h20v2h-20z" fill="#000"/>
</svg>
<svg width="904" height="654" viewBox="0 0 904 654" style="position:absolute;left:0;top:0;will-change:transform;opacity:0.999">
<text transform="translate(300.90 112.50) scale(1.1000 1)" font-size="27.5" letter-spacing="0.758" class="tt">disturbunce</text>
<text transform="translate(482.12 112.50) scale(1.0800 1)" font-size="27.5" letter-spacing="1.595" class="tt">of</text>
<text transform="translate(525.52 112.50) scale(1.0400 1)" font-size="27.5" letter-spacing="0.873" class="tt">Exner</text>
<text transform="translate(376.00 546.50) scale(1.0800 1)" font-size="22" letter-spacing="1.033" class="ax">X−coordinate</text>
<text transform="translate(91.10 390.60) rotate(-90) scale(1.0800 1)" font-size="22" letter-spacing="1.112" class="ax">Z−coordinate</text>
<text transform="translate(305.00 592.90) scale(0.8700 1)" font-size="18.3" letter-spacing="-0.180">CONTOUR</text>
<text transform="translate(393.73 592.90) scale(0.8700 1)" font-size="18.3" letter-spacing="0.165">INTERVAL</text>
<text transform="translate(480.80 592.90) scale(1.2700 1)" font-size="18.3">=</text>
<text transform="translate(503.76 592.90) scale(1.0400 1)" font-size="18.3" letter-spacing="0.385">1.000E−03</text>
<text transform="translate(180.70 494.80) scale(1.1333 1)" font-size="16.8">4</text>
<text transform="translate(231.50 494.80) scale(1.1333 1)" font-size="16.8">8</text>
<text transform="translate(276.05 494.80) scale(1.1500 1)" font-size="16.8" letter-spacing="0.406">12</text>
<text transform="translate(326.85 494.80) scale(1.1500 1)" font-size="16.8" letter-spacing="0.406">16</text>
<text transform="translate(378.80 494.80) scale(1.1500 1)" font-size="16.8" letter-spacing="-0.594">20</text>
<text transform="translate(429.60 494.80) scale(1.1500 1)" font-size="16.8" letter-spacing="-0.594">24</text>
<text transform="translate(480.40 494.80) scale(1.1500 1)" font-size="16.8" letter-spacing="-0.594">28</text>
<text transform="translate(531.20 494.80) scale(1.1500 1)" font-size="16.8" letter-spacing="-0.594">32</text>
<text transform="translate(582.00 494.80) scale(1.1500 1)" font-size="16.8" letter-spacing="-0.594">36</text>
<text transform="translate(632.80 494.80) scale(1.1500 1)" font-size="16.8" letter-spacing="-0.594">40</text>
<text transform="translate(683.60 494.80) scale(1.1500 1)" font-size="16.8" letter-spacing="-0.594">44</text>
<text transform="translate(734.40 494.80) scale(1.1500 1)" font-size="16.8" letter-spacing="-0.594">48</text>
<text transform="translate(46.12 506.40) scale(1.1800 1)" font-size="16.8" letter-spacing="0.519">(×1000</text>
<text transform="translate(120.40 506.40) scale(1.1000 1)" font-size="16.8" letter-spacing="1.930">m)</text>
<text transform="translate(683.92 517.20) scale(1.1800 1)" font-size="16.8" letter-spacing="0.519">(×1000</text>
<text transform="translate(757.80 517.20) scale(1.1000 1)" font-size="16.8" letter-spacing="1.839">m)</text>
<text transform="translate(104.75 241.00) scale(1.0500 1)" font-size="19.5" letter-spacing="-1.607">15</text>
<text transform="translate(104.75 321.00) scale(1.0500 1)" font-size="19.5" letter-spacing="-1.607">10</text>
<text transform="translate(116.00 401.00) scale(0.9091 1)" font-size="19.5">5</text>
<text transform="translate(810.90 207.00) scale(1.1500 1)" font-size="15.8" letter-spacing="-1.103">0.01</text>
<text transform="translate(810.90 240.90) scale(1.1500 1)" font-size="15.8" letter-spacing="-0.020">7.5e−3</text>
<text transform="translate(810.90 274.80) scale(1.1500 1)" font-size="15.8" letter-spacing="-0.262">0.005</text>
<text transform="translate(810.90 308.70) scale(1.1500 1)" font-size="15.8" letter-spacing="-0.020">2.5e−3</text>
<text transform="translate(810.90 342.60) scale(1.0778 1)" font-size="15.8">0</text>
<text transform="translate(810.90 376.50) scale(1.1500 1)" font-size="15.8" letter-spacing="0.359">−2.5e−3</text>
<text transform="translate(810.90 410.40) scale(1.1500 1)" font-size="15.8" letter-spacing="0.154">−0.005</text>
<text transform="translate(810.90 444.30) scale(1.1500 1)" font-size="15.8" letter-spacing="0.359">−7.5e−3</text>
<text transform="translate(810.90 478.20) scale(1.1500 1)" font-size="15.8" letter-spacing="-0.220">−0.01</text>
<text transform="translate(342.30 430.00) scale(1.0800 1)" font-size="17.6" letter-spacing="-0.135" class="cl">0.008</text>
<text transform="translate(342.30 441.60) scale(1.0800 1)" font-size="17.6" letter-spacing="-0.135" class="cl">0.006</text>
<text transform="translate(342.30 452.80) scale(1.0800 1)" font-size="17.6" letter-spacing="-0.135" class="cl">0.004</text>
<text transform="translate(342.30 464.00) scale(1.0800 1)" font-size="17.6" letter-spacing="0.115" class="cl">0.002</text>
<text transform="translate(342.30 474.80) scale(1.0800 1)" font-size="17.6" letter-spacing="-0.135" class="cl">0.000</text>
</svg>
</body></html>
